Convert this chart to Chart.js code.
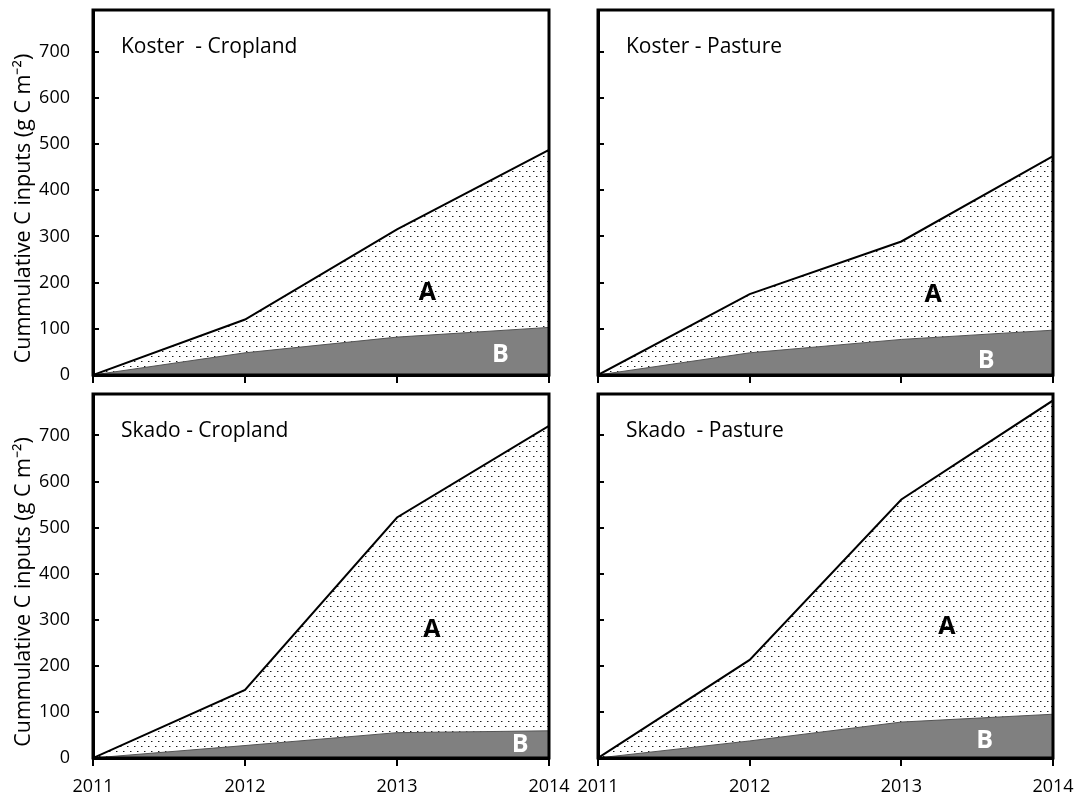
<!DOCTYPE html>
<html>
<head>
<meta charset="utf-8">
<script src="https://cdn.jsdelivr.net/npm/chart.js@4/dist/chart.umd.min.js"></script>
<style>
  html, body { margin: 0; padding: 0; background: #fff; }
  body { width: 1078px; height: 799px; position: relative; overflow: hidden; }
  canvas { position: absolute; }
</style>
</head>
<body>
<canvas id="c1" width="575" height="385" style="left:0px;top:0px;width:575px;height:385px"></canvas>
<canvas id="c2" width="518" height="385" style="left:560px;top:0px;width:518px;height:385px"></canvas>
<canvas id="c3" width="575" height="414" style="left:0px;top:385px;width:575px;height:414px"></canvas>
<canvas id="c4" width="518" height="414" style="left:560px;top:385px;width:518px;height:414px"></canvas>
<script>
// ---- data ----
const years = [2011, 2012, 2013, 2014];
const yTicks = [0, 100, 200, 300, 400, 500, 600, 700];
const yTitle = 'Cummulative C inputs (g C m\u207B\u00B2)';

const kosterCroplandTotal = [0, 120, 315, 487];
const kosterCroplandB     = [0, 48, 82, 103];
const kosterPastureTotal  = [0, 175, 289, 474];
const kosterPastureB      = [0, 48, 77, 97];
const skadoCroplandTotal  = [0, 148, 522, 721];
const skadoCroplandB      = [0, 27, 55, 59];
const skadoPastureTotal   = [0, 213, 561, 776];
const skadoPastureB       = [0, 37, 78, 95];

const panelTitles = ['Koster  - Cropland', 'Koster - Pasture', 'Skado - Cropland', 'Skado  - Pasture'];
// label anchor positions in data units [x, y]
const labelA = [[2013.2, 178], [2013.21, 174], [2013.23, 279], [2013.3, 285]];
const labelB = [[2013.68, 43], [2013.56, 30], [2013.81, 28], [2013.55, 37]];

const FONT = 'Open Sans';

// ---- dot pattern ----
function dotPattern() {
  const p = document.createElement('canvas');
  p.width = 7; p.height = 10;
  const c = p.getContext('2d');
  c.fillStyle = '#fff'; c.fillRect(0, 0, 7, 10);
  c.fillStyle = '#1a1a1a';
  c.fillRect(1, 1, 1, 1);
  c.fillRect(4, 6, 1, 1);
  c.fillStyle = '#999';
  c.fillRect(2, 1, 1, 1);
  c.fillRect(5, 6, 1, 1);
  return document.createElement('canvas').getContext('2d').createPattern(p, 'repeat');
}
const pattern = dotPattern();

const decor = {
  id: 'decor',
  afterDatasetsDraw(chart, args, o) {
    const { ctx, chartArea: a, scales: { x, y } } = chart;
    ctx.save();
    ctx.strokeStyle = '#000';
    ctx.lineWidth = 2;
    yTicks.forEach(v => {
      const py = Math.round(y.getPixelForValue(v));
      ctx.beginPath(); ctx.moveTo(a.left, py); ctx.lineTo(a.left + 6, py); ctx.stroke();
    });
    ctx.lineWidth = 3;
    ctx.strokeRect(a.left, a.top, a.right - a.left, a.bottom - a.top);
    ctx.fillStyle = '#000';
    ctx.textBaseline = 'middle';
    ctx.textAlign = 'left';
    ctx.font = '21px "' + FONT + '"';
    ctx.fillText(o.title, a.left + 28, a.top + 37);
    ctx.textAlign = 'center';
    ctx.font = 'bold 25px "' + FONT + '"';
    ctx.fillText('A', x.getPixelForValue(o.a[0]), y.getPixelForValue(o.a[1]));
    ctx.fillStyle = '#fff';
    ctx.fillText('B', x.getPixelForValue(o.b[0]), y.getPixelForValue(o.b[1]));
    if (o.yTitle) {
      ctx.fillStyle = '#000';
      ctx.font = '21.5px "' + FONT + '"';
      ctx.translate(24, (a.top + a.bottom) / 2 + 16);
      ctx.rotate(-Math.PI / 2);
      ctx.fillText(yTitle, 0, 0);
    }
    ctx.restore();
  }
};

function makeChart(id, total, b, idx, showYLabels, showXLabels, padTop, padRight) {
  const toPts = arr => years.map((yr, i) => ({ x: yr, y: arr[i] }));
  return new Chart(document.getElementById(id), {
    type: 'line',
    data: {
      datasets: [
        { data: toPts(b), borderColor: '#555', borderWidth: 1, backgroundColor: '#808080',
          fill: 'origin', pointRadius: 0, tension: 0 },
        { data: toPts(total), borderColor: '#000', borderWidth: 2, backgroundColor: pattern,
          fill: '-1', pointRadius: 0, tension: 0 }
      ]
    },
    options: {
      responsive: false,
      animation: false,
      devicePixelRatio: 1,
      layout: { padding: { top: padTop, right: padRight, left: 0, bottom: 0 } },
      plugins: { legend: { display: false }, tooltip: { enabled: false },
        decor: { title: panelTitles[idx], a: labelA[idx], b: labelB[idx], yTitle: showYLabels } },
      scales: {
        x: {
          type: 'linear', min: 2011, max: 2014,
          afterBuildTicks: s => { s.ticks = years.map(v => ({ value: v })); },
          afterFit: s => { s.height = showXLabels ? 41 : 10; s.paddingLeft = 0; s.paddingRight = 0; },
          grid: { drawOnChartArea: false, drawTicks: true, tickLength: 8, color: '#000', lineWidth: 2 },
          border: { display: true, color: '#000', width: 3 },
          ticks: { display: showXLabels, callback: v => String(v), color: '#000',
                   font: { family: FONT, size: 18 }, padding: 10, maxRotation: 0 }
        },
        y: {
          min: 0, max: 790,
          afterBuildTicks: s => { s.ticks = yTicks.map(v => ({ value: v })); },
          afterFit: s => { s.width = showYLabels ? 93 : 38; s.paddingTop = 0; s.paddingBottom = 0; },
          grid: { display: false },
          border: { display: true, color: '#000', width: 3 },
          ticks: { display: showYLabels, color: '#000', font: { family: FONT, size: 18 }, padding: 15 },
          title: { display: false }
        }
      }
    },
    plugins: [decor]
  });
}

makeChart('c1', kosterCroplandTotal, kosterCroplandB, 0, true, false, 10, 26);
makeChart('c2', kosterPastureTotal, kosterPastureB, 1, false, false, 10, 25);
makeChart('c3', skadoCroplandTotal, skadoCroplandB, 2, true, true, 9, 26);
makeChart('c4', skadoPastureTotal, skadoPastureB, 3, false, true, 9, 25);
</script>
</body>
</html>
